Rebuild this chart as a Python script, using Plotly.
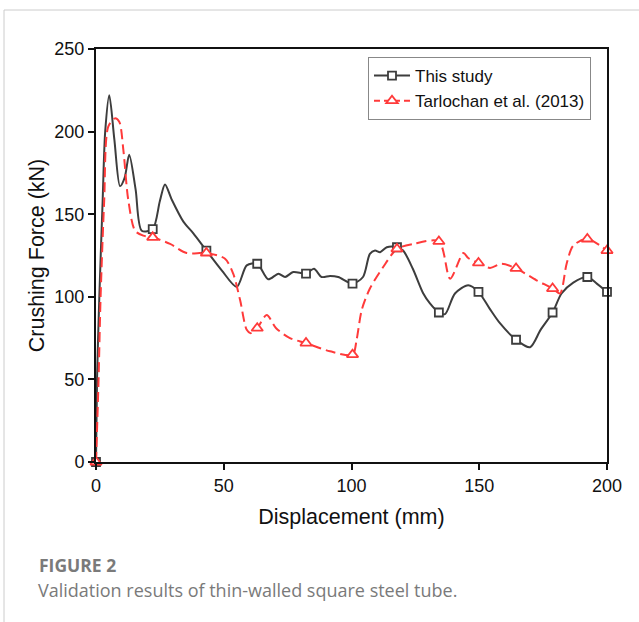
import plotly.graph_objects as go

# "This study" curve
study_x = [0, 0.4, 1.3, 2.6, 3.6, 5.2, 7.2, 9.4, 11.2, 13.0, 15.5, 17.9, 22.2, 25.0, 27.0, 29.6, 34.2, 38.1, 43.2,
           49.2, 55.1, 59.0, 63.1, 67.4, 71.4, 74.0, 77.2, 82.2, 85.3, 88.3, 91.6, 94.8, 100.4, 104.5,
           107.2, 109.2, 111.2, 113.8, 117.8, 120.2, 124.0, 128.1, 130.7, 134.2, 136.6, 140.5, 145.7,
           149.7, 154.0, 158.1, 164.4, 169.9, 174.0, 178.7, 182.2, 186.8, 192.3, 196.0, 200.0]
study_y = [0, 50, 100, 158, 200, 222, 195, 167, 172, 186, 165, 140, 141, 158, 168, 159, 145.5, 138.4, 128,
           116, 106, 119, 120, 110.6, 114, 112, 115, 114, 117, 112, 112.6, 112, 108, 112,
           126, 128, 127, 130, 130, 128, 117, 102, 96, 90.5, 89.5, 102, 107,
           103, 93, 84, 74, 69.5, 80, 90.5, 102, 108.6, 112, 108, 103]

# Tarlochan et al. (2013) curve
tarl_x = [0, 1.0, 1.8, 3.2, 4.8, 7.4, 9.1, 10.7, 12.6, 15.3, 18.5, 22.2, 29.0, 35.5, 43.2, 50.5, 53.7,
          56.4, 59.0, 60.5, 63.1, 66.8, 70.5, 75.9, 82.2, 91.6, 100.4, 102.0, 104.0, 107.2, 112.4,
          117.8, 124.2, 134.2, 138.6, 143.8, 145.7, 149.7, 154.2, 158.7, 164.4, 172.4, 178.7, 181.6,
          184.2, 186.8, 192.3, 200.0]
tarl_y = [0, 50, 100, 158, 203, 208, 206, 189, 159, 140, 137, 136, 132, 126.5, 126.5, 123, 114,
          98, 80, 78, 81, 89, 81, 75, 72, 67, 65, 74, 92, 105, 118,
          129, 132, 133.5, 111, 126.5, 123.5, 120.5, 117.5, 120, 117.2, 110, 105, 102,
          120, 131, 135, 128]

# marker positions
mark_x = [0, 22.2, 43.2, 63.1, 82.2, 100.4, 117.8, 134.2, 149.7, 164.4, 178.7, 192.3, 200.0]
study_mark_y = [0, 141, 128, 120, 114, 108, 130, 90.5, 103, 74, 90.5, 112, 103]
tarl_mark_y = [0, 136, 126.5, 81, 72, 65, 129, 133.5, 120.5, 117.2, 105, 135, 128]

x_ticks = [0, 50, 100, 150, 200]
y_ticks = [0, 50, 100, 150, 200, 250]

BLACK = "#3d3d3d"
RED = "#ff3a3a"
DASH = "10px,5px"
FONT = "Liberation Sans, Arial, sans-serif"
CAP_FONT = "Open Sans, Noto Sans, sans-serif"

fig = go.Figure()
fig.add_trace(go.Scatter(x=study_x, y=study_y, mode="lines", line=dict(color=BLACK, width=2, shape="spline", smoothing=0.8),
                         showlegend=False, hoverinfo="skip"))
fig.add_trace(go.Scatter(x=tarl_x, y=tarl_y, mode="lines",
                         line=dict(color=RED, width=2, dash=DASH, shape="spline", smoothing=0.8),
                         showlegend=False, hoverinfo="skip"))
fig.add_trace(go.Scatter(x=mark_x, y=study_mark_y, mode="markers",
                         marker=dict(symbol="square", size=8, color="white", line=dict(color=BLACK, width=1.8)),
                         showlegend=False, cliponaxis=False))
fig.add_trace(go.Scatter(x=mark_x, y=tarl_mark_y, mode="markers",
                         marker=dict(symbol="triangle-up", size=10, color="white", line=dict(color=RED, width=1.8)),
                         showlegend=False, cliponaxis=False))
# legend entries
fig.add_trace(go.Scatter(x=[None], y=[None], mode="lines+markers", name="This study",
                         line=dict(color=BLACK, width=2),
                         marker=dict(symbol="square", size=8, color="white", line=dict(color=BLACK, width=1.8))))
fig.add_trace(go.Scatter(x=[None], y=[None], mode="lines+markers", name="Tarlochan et al. (2013)",
                         line=dict(color=RED, width=2, dash="6px,4px"),
                         marker=dict(symbol="triangle-up", size=10, color="white", line=dict(color=RED, width=1.8))))

L, R, T, B = 96, 32, 49, 160
W, H = 639, 622
pw, ph = W - L - R, H - T - B

def px(xp):
    return (xp - L) / pw

def py(yp):
    return (H - B - yp) / ph

axis_font = dict(family=FONT, size=18, color="#111")
title_font = dict(family=FONT, size=21.5, color="#111")
fig.update_xaxes(range=[0, 200], tickvals=x_ticks, ticks="outside", ticklen=6, tickwidth=1.5, tickcolor="#111",
                 showline=True, linecolor="#111", linewidth=2, mirror=True, showgrid=False, zeroline=False,
                 tickfont=axis_font,
                 title=dict(text="Displacement (mm)", font=title_font, standoff=14))
fig.update_yaxes(range=[0, 250], tickvals=y_ticks, ticks="outside", ticklen=6, tickwidth=1.5, tickcolor="#111",
                 showline=True, linecolor="#111", linewidth=2, mirror=True, showgrid=False, zeroline=False,
                 tickfont=axis_font,
                 title=dict(text="Crushing Force (kN)", font=title_font, standoff=4))

fig.update_layout(
    width=W, height=H,
    margin=dict(l=L, r=R, t=T, b=B),
    paper_bgcolor="white", plot_bgcolor="white",
    legend=dict(x=px(368), y=py(57), xanchor="left", yanchor="top",
                bgcolor="white", bordercolor="#888", borderwidth=1,
                font=dict(family=FONT, size=17, color="#111"),
                itemwidth=36, tracegroupgap=0),
    annotations=[
        dict(text="<b>FIGURE 2</b>", x=px(37), y=py(565), xref="paper", yref="paper", xanchor="left", yanchor="middle",
             showarrow=False, font=dict(family=CAP_FONT, size=17.5, color="#7a7a7a")),
        dict(text="Validation results of thin-walled square steel tube.", x=px(36), y=py(590), xref="paper", yref="paper",
             xanchor="left", yanchor="middle", showarrow=False,
             font=dict(family=CAP_FONT, size=18, color="#7a7a7a")),
    ],
    shapes=[
        dict(type="line", xref="paper", yref="paper", x0=px(4), x1=px(639), y0=py(10), y1=py(10),
             line=dict(color="#cccccc", width=1)),
        dict(type="line", xref="paper", yref="paper", x0=px(4), x1=px(4), y0=py(10), y1=py(622),
             line=dict(color="#cccccc", width=1)),
    ],
)

fig.write_html("out.html")
